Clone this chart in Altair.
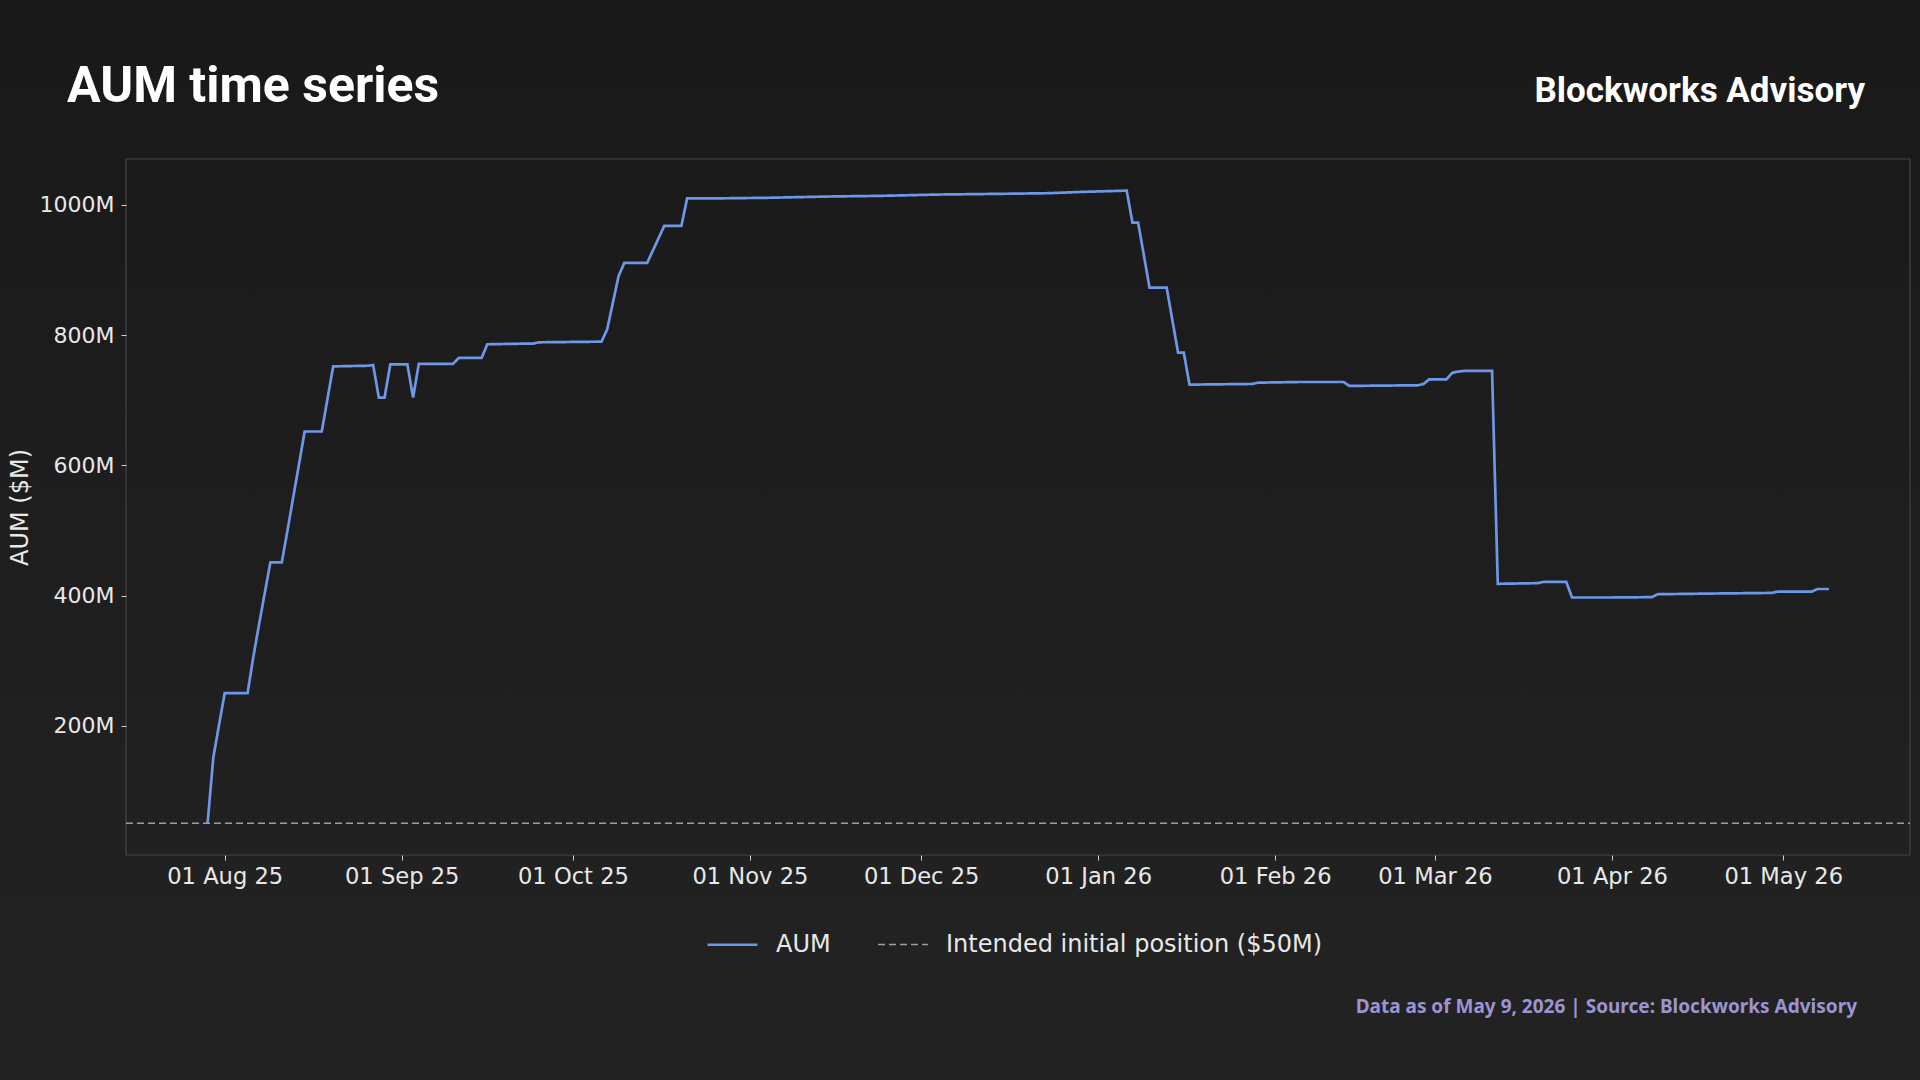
import altair as alt
import pandas as pd

# ---- data ----
aum_dates = [
    "2025-07-29", "2025-07-30", "2025-07-31", "2025-08-01", "2025-08-05", "2025-08-06",
    "2025-08-07", "2025-08-08", "2025-08-09", "2025-08-11", "2025-08-12", "2025-08-13",
    "2025-08-14", "2025-08-15", "2025-08-18", "2025-08-19", "2025-08-20", "2025-08-26",
    "2025-08-27", "2025-08-28", "2025-08-29", "2025-08-30", "2025-09-02", "2025-09-03",
    "2025-09-04", "2025-09-10", "2025-09-11", "2025-09-15", "2025-09-16", "2025-09-23",
    "2025-09-24", "2025-09-25", "2025-10-06", "2025-10-07", "2025-10-08", "2025-10-09",
    "2025-10-10", "2025-10-14", "2025-10-15", "2025-10-16", "2025-10-17", "2025-10-20",
    "2025-10-21", "2025-10-25", "2025-11-04", "2025-11-15", "2025-11-24", "2025-12-04",
    "2025-12-14", "2025-12-23", "2025-12-29", "2026-01-06", "2026-01-07", "2026-01-08",
    "2026-01-10", "2026-01-13", "2026-01-15", "2026-01-16", "2026-01-17", "2026-01-28",
    "2026-01-29", "2026-02-05", "2026-02-13", "2026-02-14", "2026-02-26", "2026-02-27",
    "2026-02-28", "2026-03-03", "2026-03-04", "2026-03-05", "2026-03-06", "2026-03-11",
    "2026-03-12", "2026-03-19", "2026-03-20", "2026-03-24", "2026-03-25", "2026-04-01",
    "2026-04-08", "2026-04-09", "2026-04-18", "2026-04-29", "2026-04-30", "2026-05-06",
    "2026-05-07", "2026-05-09",
]
aum_values = [
    50, 151, 201, 250, 250, 305,
    355, 403, 451, 451, 500, 551,
    601, 652, 652, 702, 752, 753,
    754, 704, 704, 755, 755, 704,
    756, 756, 765, 765, 786, 787,
    787, 789, 790, 809, 850, 891,
    911, 911, 930, 949, 968, 968,
    1010, 1010, 1011, 1013, 1014, 1016,
    1017, 1018, 1020, 1022, 973, 973,
    873, 873, 773, 773, 724, 725,
    727, 728, 728, 722, 723, 725,
    732, 732, 742, 744, 745, 745,
    418, 419, 421, 421, 397, 397,
    397.5, 402, 403, 404, 406, 406,
    410, 410,
]
ref_dates = ["2025-07-14 17:00:00", "2026-05-23 05:00:00"]
ref_values = [50, 50]
series_names = ["AUM", "Intended initial position ($50M)"]
y_ticks = [200, 400, 600, 800, 1000]
x_tick_months = [(2025, 8), (2025, 9), (2025, 10), (2025, 11), (2025, 12),
                 (2026, 1), (2026, 2), (2026, 3), (2026, 4), (2026, 5)]

title_text = "AUM time series"
brand_text = "Blockworks Advisory"
footer_text = "Data as of May 9, 2026 | Source: Blockworks Advisory"

# ---- build table ----
df = pd.DataFrame({
    "date": pd.to_datetime(aum_dates + ref_dates, format="mixed"),
    "value": aum_values + ref_values,
    "series": [series_names[0]] * len(aum_dates) + [series_names[1]] * len(ref_dates),
})

W, H = 1784, 696
PAD_L, PAD_T = 126, 159

x_domain = [alt.DateTime(year=2025, month=7, date=14, hours=17),
            alt.DateTime(year=2026, month=5, date=23, hours=5)]
x_values = [alt.DateTime(year=y, month=m, date=1) for y, m in x_tick_months]

legend = alt.Legend(
    title=None, orient="none", legendX=580, legendY=759, direction="horizontal",
    labelFont="DejaVu Sans", labelFontSize=24, labelColor="#e8e8e8", labelLimit=600,
    symbolType="stroke", symbolSize=2500, columnPadding=44, labelOffset=17,
)

one = pd.DataFrame({"k": [0]})

bg = alt.Chart(one).mark_rect(
    color=alt.LinearGradient(
        gradient="linear", x1=0, x2=0, y1=0, y2=1,
        stops=[alt.GradientStop(color="#191919", offset=0),
               alt.GradientStop(color="#232323", offset=1)],
    )
).encode(
    x=alt.value(-PAD_L), x2=alt.value(1920 - PAD_L),
    y=alt.value(-PAD_T), y2=alt.value(1080 - PAD_T),
)

frame = alt.Chart(one).mark_rect(
    filled=False, stroke="#444444", strokeWidth=1.2,
).encode(x=alt.value(0), x2=alt.value(W), y=alt.value(0), y2=alt.value(H))

lines = alt.Chart(df).mark_line(clip=True).encode(
    x=alt.X("date:T",
            scale=alt.Scale(domain=x_domain, nice=False),
            axis=alt.Axis(values=x_values, format="%d %b %y", title=None, zindex=2,
                          labelFontSize=22.6, labelPadding=5)),
    y=alt.Y("value:Q",
            scale=alt.Scale(domain=[1.4, 1070.6], nice=False, zero=False),
            axis=alt.Axis(values=y_ticks, labelExpr="datum.value + 'M'", zindex=2,
                          labelFontSize=22, labelPadding=7,
                          title="AUM ($M)", titleX=-106, titleY=348,
                          titleAngle=-90, titleAlign="center", titleBaseline="middle")),
    color=alt.Color("series:N",
                    scale=alt.Scale(domain=series_names, range=["#6f97e8", "#9e9e9e"]),
                    legend=legend),
    strokeDash=alt.StrokeDash("series:N",
                              scale=alt.Scale(domain=series_names, range=[[1, 0], [7, 4]]),
                              legend=legend),
    strokeWidth=alt.StrokeWidth("series:N",
                                scale=alt.Scale(type="ordinal", domain=series_names, range=[2.7, 1.5]),
                                legend=legend),
    order=alt.Order("series:N", sort="descending"),
)

title = alt.Chart(pd.DataFrame({"t": [title_text]})).mark_text(
    align="left", baseline="alphabetic", font="Roboto", fontSize=50,
    fontWeight="bold", color="#ffffff",
).encode(text="t:N", x=alt.value(67 - PAD_L), y=alt.value(102 - PAD_T))

brand = alt.Chart(pd.DataFrame({"t": [brand_text]})).mark_text(
    align="right", baseline="alphabetic", font="Roboto", fontSize=35,
    fontWeight="bold", color="#ffffff",
).encode(text="t:N", x=alt.value(1865 - PAD_L), y=alt.value(102 - PAD_T))

footer = alt.Chart(pd.DataFrame({"t": [footer_text]})).mark_text(
    align="right", baseline="alphabetic", font="Noto Sans", fontSize=19,
    fontWeight="bold", color="#9d94d2",
).encode(text="t:N", x=alt.value(1857 - PAD_L), y=alt.value(1013 - PAD_T))

chart = alt.layer(bg, frame, lines, title, brand, footer).properties(
    width=W, height=H, autosize="none",
    padding={"left": PAD_L, "top": PAD_T, "right": 1920 - PAD_L - W, "bottom": 1080 - PAD_T - H},
).configure(background="#1e1e1e").configure_view(
    strokeWidth=0,
).configure_axis(
    labelFont="DejaVu Sans", labelColor="#e8e8e8",
    tickColor="#d0d0d0", tickSize=5, tickWidth=1, domain=False, grid=False,
    titleFont="DejaVu Sans", titleFontSize=24, titleFontWeight="normal",
    titleColor="#e8e8e8",
)

chart.save("out.html", embed_options={"renderer": "svg", "actions": False})
